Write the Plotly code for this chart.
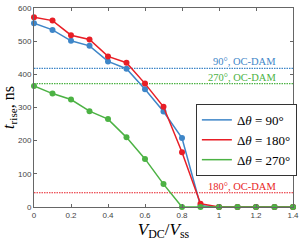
import plotly.graph_objects as go

x_vals = [0, 0.1, 0.2, 0.3, 0.4, 0.5, 0.6, 0.7, 0.8, 0.9, 1.0, 1.1, 1.2, 1.3, 1.4]
t_90 = [554, 534, 501, 486, 439, 417, 355, 288, 208, 4, 0, 0, 0, 0, 0]
t_180 = [572, 562, 518, 505, 454, 435, 372, 302, 165, 10, 0, 0, 0, 0, 0]
t_270 = [365, 342, 324, 289, 265, 210, 145, 69, 0, 0, 0, 0, 0, 0, 0]
ref_90 = 418
ref_270 = 372
ref_180 = 43
x_ticks = [0, 0.2, 0.4, 0.6, 0.8, 1.0, 1.2, 1.4]
x_tick_text = ["0", "0.2", "0.4", "0.6", "0.8", "1", "1.2", "1.4"]
y_ticks = [0, 100, 200, 300, 400, 500, 600]

BLUE = "rgb(62,134,200)"
RED = "rgb(232,30,38)"
GREEN = "rgb(76,178,68)"
SERIF = "Liberation Serif, Times New Roman, serif"

fig = go.Figure()

for ref, col in [(ref_90, BLUE), (ref_270, GREEN), (ref_180, RED)]:
    fig.add_trace(go.Scatter(x=[0, 1.4], y=[ref, ref], mode="lines",
                             line=dict(color=col, width=1.2, dash="1.5px,1px"),
                             showlegend=False, hoverinfo="skip"))

for ys, col, name in [(t_90, BLUE, "90°"), (t_180, RED, "180°"), (t_270, GREEN, "270°")]:
    fig.add_trace(go.Scatter(x=x_vals, y=ys, mode="lines+markers",
                             line=dict(color=col, width=1.5),
                             marker=dict(color=col, size=6),
                             showlegend=False, cliponaxis=False))
    fig.add_trace(go.Scatter(x=[None], y=[None], mode="lines",
                             line=dict(color=col, width=1.5),
                             name="Δ<i>θ</i> = " + name))

annots = [
    dict(y=ref_90, text="90°, OC-DAM", color=BLUE),
    dict(y=ref_270, text="270°, OC-DAM", color=GREEN),
    dict(y=ref_180, text="180°, OC-DAM", color=RED),
]
for a in annots:
    fig.add_annotation(x=1.32, y=a["y"], text=a["text"], xanchor="right",
                       yanchor="bottom", showarrow=False, yshift=-1,
                       font=dict(family=SERIF, size=10.5, color=a["color"]))

axis_common = dict(showline=True, linecolor="#666", linewidth=1, mirror="ticks",
                   ticks="inside", ticklen=3, tickcolor="#666", showgrid=False,
                   zeroline=False, automargin=False, ticklabeloverflow="allow",
                   tickfont=dict(family="Liberation Sans, Arial", size=8, color="#444"))

fig.update_layout(
    width=299, height=243,
    margin=dict(l=34, r=6, t=8, b=36, autoexpand=False),
    paper_bgcolor="white", plot_bgcolor="white",
    xaxis=dict(range=[0, 1.4], tickvals=x_ticks, ticktext=x_tick_text,
               title=dict(text="<i>V</i><sub>DC</sub>/<i>V</i><sub>ss</sub>",
                          font=dict(family=SERIF, size=17, color="black"), standoff=0),
               **axis_common),
    yaxis=dict(range=[0, 600], tickvals=y_ticks,
               title=dict(text="<i>t</i><sub>rise</sub>, ns",
                          font=dict(family=SERIF, size=16, color="black"), standoff=2),
               **axis_common),
    legend=dict(x=0.625, y=0.518, xanchor="left", yanchor="top",
                bgcolor="white", bordercolor="#333", borderwidth=1,
                font=dict(family=SERIF, size=13, color="black"),
                tracegroupgap=0, itemwidth=30),
)

fig.write_html("out.html", config={"displayModeBar": False},
               post_script="document.body.style.margin='0';document.body.style.overflow='hidden';")
